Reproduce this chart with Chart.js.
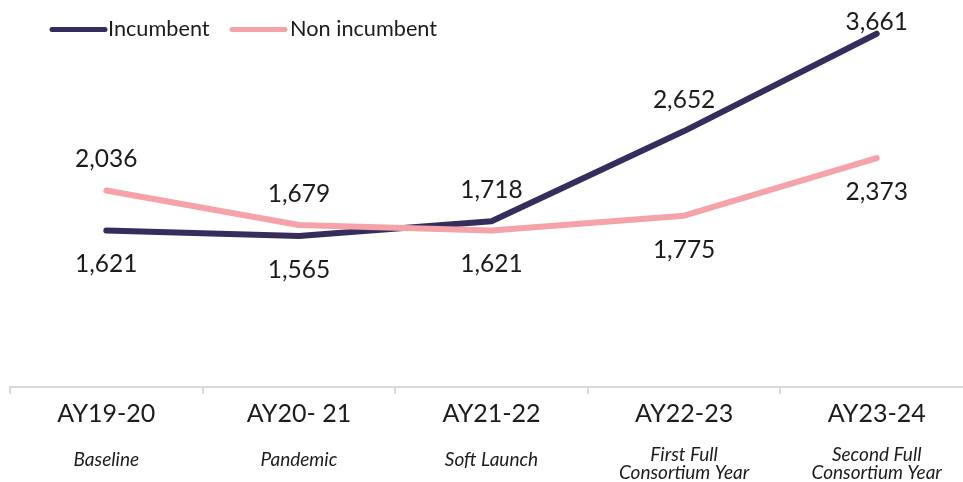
<!DOCTYPE html>
<html>
<head>
<meta charset="utf-8">
<script src="https://cdn.jsdelivr.net/npm/chart.js@4.4.1/dist/chart.umd.min.js"></script>
<style>
html,body{margin:0;padding:0;background:#fff;overflow:hidden;}
#wrap{position:relative;width:975px;height:482px;}
</style>
</head>
<body>
<div id="wrap"><canvas id="c"></canvas></div>
<script>
const categories = ['AY19-20', 'AY20- 21', 'AY21-22', 'AY22-23', 'AY23-24'];
const subLabels = [['Baseline'], ['Pandemic'], ['Soft Launch'], ['First Full', 'Consortium Year'], ['Second Full', 'Consortium Year']];
const seriesNames = ['Incumbent', 'Non incumbent'];
const incumbent = [1621, 1565, 1718, 2652, 3661];
const nonIncumbent = [2036, 1679, 1621, 1775, 2373];
const yMin = 0;
const yMax = 4000;

const NAVY = '#372d5c';
const PINK = '#f5a3a8';
const TEXT = '#1c1c1c';

const labelsPlugin = {
  id: 'valueLabels',
  afterDatasetsDraw(chart) {
    const ctx = chart.ctx;
    const metas = [chart.getDatasetMeta(0), chart.getDatasetMeta(1)];
    const data = [incumbent, nonIncumbent];
    ctx.save();
    ctx.font = '24.5px Lato';
    ctx.fillStyle = TEXT;
    ctx.textAlign = 'center';
    ctx.textBaseline = 'middle';
    for (let i = 0; i < categories.length; i++) {
      for (let s = 0; s < 2; s++) {
        const pt = metas[s].data[i];
        const other = data[1 - s][i];
        const above = data[s][i] >= other;
        let y = above ? pt.y - 31 : pt.y + 34;
        if (y < 22) y = 22;
        ctx.fillText(data[s][i].toLocaleString('en-US'), pt.x, y);
      }
    }
    ctx.restore();
  }
};

const subLabelPlugin = {
  id: 'subLabels',
  afterDraw(chart) {
    const ctx = chart.ctx;
    const xs = chart.scales.x;
    ctx.save();
    ctx.font = 'italic 19px Lato';
    ctx.fillStyle = TEXT;
    ctx.textAlign = 'center';
    ctx.textBaseline = 'middle';
    subLabels.forEach((lines, i) => {
      const x = xs.getPixelForValue(i);
      if (lines.length === 1) {
        ctx.fillText(lines[0], x, 460);
      } else {
        lines.forEach((t, k) => ctx.fillText(t, x, 455 + k * 18));
      }
    });
    // legend
    const items = [
      {name: seriesNames[0], color: NAVY, x0: 52, x1: 105, tx: 108},
      {name: seriesNames[1], color: PINK, x0: 232, x1: 285, tx: 290}
    ];
    ctx.font = '21.7px Lato';
    ctx.textAlign = 'left';
    items.forEach(it => {
      ctx.strokeStyle = it.color;
      ctx.lineWidth = 5;
      ctx.lineCap = 'round';
      ctx.beginPath();
      ctx.moveTo(it.x0, 29.5);
      ctx.lineTo(it.x1, 29.5);
      ctx.stroke();
      ctx.fillStyle = TEXT;
      ctx.fillText(it.name, it.tx, 29);
    });
    ctx.restore();
  }
};

new Chart(document.getElementById('c'), {
  type: 'line',
  data: {
    labels: categories,
    datasets: [
      {label: seriesNames[0], data: incumbent, borderColor: NAVY, backgroundColor: NAVY, borderWidth: 6,
       borderCapStyle: 'round', borderJoinStyle: 'round', pointRadius: 0, tension: 0, order: 2},
      {label: seriesNames[1], data: nonIncumbent, borderColor: PINK, backgroundColor: PINK, borderWidth: 6,
       borderCapStyle: 'round', borderJoinStyle: 'round', pointRadius: 0, tension: 0, order: 1}
    ]
  },
  options: {
    responsive: true,
    maintainAspectRatio: false,
    animation: false,
    layout: {padding: {left: 10, right: 2, top: 1, bottom: 0}},
    plugins: {legend: {display: false}, tooltip: {enabled: false}},
    scales: {
      x: {
        offset: true,
        grid: {offset: true, drawOnChartArea: false, drawTicks: true, tickLength: 7, color: '#d9d9d9', lineWidth: 2},
        border: {display: true, color: '#d9d9d9', width: 2},
        ticks: {font: {family: 'Lato', size: 25}, color: TEXT, padding: 5, maxRotation: 0, autoSkip: false},
        afterFit(scale) { scale.height = 95; }
      },
      y: {display: false, min: yMin, max: yMax}
    }
  },
  plugins: [labelsPlugin, subLabelPlugin]
});
</script>
</body>
</html>
